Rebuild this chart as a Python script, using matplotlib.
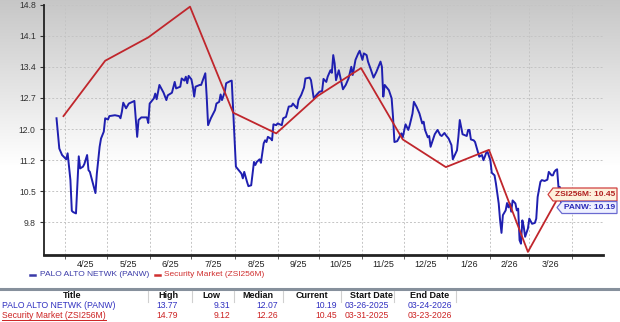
import numpy as np
import pandas as pd
import matplotlib
matplotlib.use("Agg")
import matplotlib.pyplot as plt
import matplotlib.dates as mdates
from matplotlib.patches import Polygon
from matplotlib.lines import Line2D

plt.rcParams['font.family'] = ['Liberation Sans', 'DejaVu Sans']

W, H = 620, 322

# PALO ALTO NETWK (PANW) daily values, days counted from the start date
PANW_START = "2025-03-26"
panw_days = [0, 2, 4, 7, 8, 10, 11, 12, 14, 16, 17, 19, 20, 22, 23, 24, 28, 29, 31, 32,
             34, 35, 37, 38, 42, 45, 46, 47, 48, 50, 52, 56, 58, 59, 61, 65, 66, 67, 70, 71,
             72, 74, 76, 77, 79, 80, 83, 85, 86, 89, 90, 92, 93, 94, 95, 97, 98, 99, 100, 103,
             104, 107, 108, 109, 111, 114, 115, 117, 118, 119, 121, 122, 125, 126, 127, 129, 131, 133, 134, 135,
             137, 138, 140, 142, 143, 144, 146, 147, 149, 150, 151, 152, 154, 155, 156, 158, 159, 162, 163, 165,
             167, 169, 170, 171, 173, 174, 176, 178, 179, 182, 183, 185, 187, 189, 191, 192, 194, 195, 197, 198,
             199, 200, 201, 203, 204, 206, 208, 210, 212, 213, 215, 217, 218, 220, 221, 223, 224, 226, 228, 230,
             233, 234, 235, 236, 239, 241, 242, 243, 245, 246, 248, 249, 251, 253, 254, 256, 257, 259, 261, 263,
             264, 265, 267, 268, 269, 271, 272, 274, 276, 277, 279, 280, 282, 284, 285, 286, 288, 289, 290, 291,
             292, 295, 296, 297, 298, 300, 301, 303, 304, 306, 307, 308, 309, 310, 312, 313, 315, 316, 318, 319,
             320, 321, 323, 324, 325, 326, 327, 328, 330, 331, 332, 333, 334, 335, 336, 337, 339, 340, 342, 344,
             345, 346, 348, 349, 351, 353, 354, 356, 357, 358, 359, 360, 361, 362, 363]
panw_vals = [12.21, 11.51, 11.36, 11.26, 11.40, 10.78, 10.07, 10.04, 10.01, 11.33, 11.05, 11.09, 11.15, 11.36, 11.01, 10.97, 10.48, 10.93, 11.55, 11.74,
             11.90, 12.21, 12.18, 12.26, 12.28, 12.26, 12.21, 12.36, 12.57, 12.44, 12.55, 12.61, 11.78, 12.17, 12.23, 12.23, 12.10, 12.55, 12.67, 12.78,
             12.65, 12.98, 12.86, 12.80, 12.63, 12.74, 12.80, 13.05, 12.90, 12.94, 13.13, 13.08, 13.17, 13.02, 13.19, 13.11, 12.95, 12.71, 12.94, 12.98,
             12.98, 13.25, 12.71, 12.05, 12.21, 12.40, 12.55, 12.59, 12.76, 12.63, 12.82, 13.02, 13.07, 13.08, 12.40, 11.09, 11.01, 10.93, 10.82, 10.97,
             10.74, 10.64, 10.66, 11.20, 11.13, 11.20, 11.26, 11.18, 11.63, 11.70, 11.66, 11.78, 11.74, 11.70, 12.07, 12.05, 12.09, 12.05, 12.21, 12.24,
             12.48, 12.49, 12.55, 12.51, 12.44, 12.63, 12.75, 12.92, 13.13, 13.15, 13.09, 12.67, 12.75, 12.82, 12.84, 13.12, 13.05, 13.17, 13.32, 13.26,
             13.67, 13.48, 13.09, 13.32, 13.17, 12.88, 12.98, 13.13, 13.40, 13.21, 13.56, 13.71, 13.77, 13.56, 13.71, 13.67, 13.52, 13.34, 13.15, 13.28,
             13.52, 13.40, 12.71, 12.98, 12.86, 12.67, 12.24, 11.66, 11.68, 11.74, 11.86, 11.77, 12.07, 11.94, 12.05, 12.32, 12.59, 12.47, 12.32, 12.09,
             12.13, 11.94, 11.77, 11.80, 11.55, 11.74, 11.84, 11.94, 11.82, 11.80, 11.87, 11.82, 11.74, 11.59, 11.26, 11.33, 11.47, 11.78, 12.17, 12.01,
             11.84, 11.80, 11.94, 11.94, 11.72, 11.70, 11.66, 11.43, 11.32, 11.36, 11.24, 11.32, 11.41, 11.43, 11.24, 10.95, 10.89, 10.70, 10.24, 9.85,
             9.56, 9.97, 10.08, 10.25, 10.15, 10.24, 10.05, 10.31, 10.24, 10.08, 10.12, 9.39, 9.31, 9.85, 9.70, 9.47, 9.66, 9.89, 9.77, 9.79,
             9.89, 10.39, 10.74, 10.78, 10.76, 10.79, 10.97, 10.89, 10.89, 10.97, 11.01, 11.03, 10.61, 10.62, 10.19]

# Security Market (ZSI256M) monthly values
zsi_dates = ["2025-03-31", "2025-04-30", "2025-05-31", "2025-06-30", "2025-07-31", "2025-08-31",
             "2025-09-30", "2025-10-31", "2025-11-30", "2025-12-31", "2026-01-31", "2026-02-28", "2026-03-23"]
zsi_vals = [12.26, 13.54, 14.08, 14.79, 12.34, 11.86, 12.73, 13.37, 11.72, 11.08, 11.48, 9.12, 10.45]

month_labels = ["4/25", "5/25", "6/25", "7/25", "8/25", "9/25", "10/25", "11/25", "12/25", "1/26", "2/26", "3/26"]
y_ticks = [9.8, 10.52, 11.24, 11.96, 12.68, 13.40, 14.12, 14.84]

table_cols = ["Title", "High", "Low", "Median", "Current", "Start Date", "End Date"]
panw_row = ["PALO ALTO NETWK (PANW)", "13.77", "9.31", "12.07", "10.19", "03-26-2025", "03-24-2026"]
zsi_row = ["Security Market (ZSI256M)", "14.79", "9.12", "12.26", "10.45", "03-31-2025", "03-23-2026"]

BLUE = "#1f1fb0"
RED = "#c0262c"


def fx(px):
    return px / W


def fy(py):
    return 1 - py / H


def tag(fig, x_tip, y_top, y_bot, x_right, text, fc, ec, tc):
    ym = (y_top + y_bot) / 2
    pts = [(fx(x_tip), fy(ym)), (fx(x_tip + 5), fy(y_top)), (fx(x_right), fy(y_top)),
           (fx(x_right), fy(y_bot)), (fx(x_tip + 5), fy(y_bot))]
    fig.patches.append(Polygon(pts, closed=True, transform=fig.transFigure,
                               facecolor=fc, edgecolor=ec, lw=0.9, zorder=5))
    fig.text(fx((x_tip + 5 + x_right) / 2), fy(ym), text, color=tc, fontsize=6,
             fontweight="bold", ha="center", va="center", zorder=6)


def main():
    fig = plt.figure(figsize=(W / 100, H / 100), dpi=100)

    # gray to white background fade at the top
    bg = fig.add_axes([0, 0, 1, 1], zorder=0)
    rows = np.arange(H)
    g = np.clip(0.78 + 0.22 * rows / 165.0, 0, 1)
    img = np.stack([g, g, g], axis=-1)[:, None, :].repeat(2, axis=1)
    bg.imshow(img, aspect="auto", extent=[0, 1, 0, 1], origin="upper")
    bg.axis("off")

    ax = fig.add_axes([fx(44), fy(254.5), fx(603 - 44), (254.5 - 4.5) / H], zorder=1)
    ax.patch.set_alpha(0)

    panw_dates = pd.Timestamp(PANW_START) + pd.to_timedelta(panw_days, unit="D")
    ax.plot(panw_dates, panw_vals, color=BLUE, lw=1.4, zorder=3)
    ax.plot(pd.to_datetime(zsi_dates), zsi_vals, color=RED, lw=1.3, zorder=4)

    ax.set_xlim(pd.Timestamp("2025-03-17"), pd.Timestamp("2026-04-23"))
    ax.set_ylim(9.06, 14.84)

    month_starts = pd.date_range("2025-04-01", "2026-04-01", freq="MS")
    mids = [month_starts[i] + (month_starts[i + 1] - month_starts[i]) / 2 for i in range(12)]
    ax.set_xticks(mids)
    ax.set_xticklabels(month_labels)
    ax.set_xticks(month_starts, minor=True)
    ax.tick_params(axis="x", which="major", length=0, labelsize=6.5, colors="#222222", pad=4)
    ax.tick_params(axis="x", which="minor", length=3, color="#444444")

    ax.set_yticks(y_ticks)
    ax.set_yticklabels([f"{v:.1f}" for v in y_ticks])
    ax.tick_params(axis="y", length=3, width=0.8, labelsize=6.2, colors="#333333", pad=3)

    ax.grid(True, axis="y", which="major", linestyle=(0, (2, 2)), color="#c4c4c4", lw=0.7)
    ax.grid(True, axis="x", which="minor", linestyle=(0, (2, 2)), color="#c4c4c4", lw=0.7)

    for s in ("top", "right"):
        ax.spines[s].set_visible(False)
    ax.spines["left"].set_color("#222222")
    ax.spines["left"].set_linewidth(1.3)
    ax.spines["bottom"].set_color("#222222")
    ax.spines["bottom"].set_linewidth(2)

    # last value tags
    tag(fig, 548, 188, 201, 617, f"ZSI256M: {zsi_vals[-1]:.2f}", "#fdf1dc", "#d04040", "#b02020")
    tag(fig, 557, 201.5, 213.5, 617, f"PANW: {panw_vals[-1]:.2f}", "#eef0ff", "#6a6ad0", "#2a2ab8")

    # legend
    fig.add_artist(Line2D([fx(30), fx(35)], [fy(274.5), fy(274.5)], color="#3a3aa8", lw=1.8))
    fig.text(fx(40), fy(274.5), "PALO ALTO NETWK (PANW)", color="#3a3aa8", fontsize=6, va="center")
    fig.add_artist(Line2D([fx(155), fx(160)], [fy(274.5), fy(274.5)], color="#d03030", lw=1.8))
    fig.text(fx(164), fy(274.5), "Security Market (ZSI256M)", color="#d03030", fontsize=6, va="center")

    # separator above the table
    fig.add_artist(Line2D([0, 1], [fy(288.5), fy(288.5)], color="#86909c", lw=2.2))

    # table
    narrow = ["Liberation Sans Narrow", "Liberation Sans", "DejaVu Sans"]
    head_x = [72, 168, 211, 258, 312, 371, 430]
    for x, c in zip(head_x, table_cols):
        fig.text(fx(x), fy(296), c, fontsize=6.5, fontweight="bold", ha="center", va="center",
                 family=narrow, color="#111111")
    for x in [148, 192, 234, 283, 341, 394, 456]:
        fig.add_artist(Line2D([fx(x), fx(x)], [fy(290.5), fy(301.5)], color="#d0d0d0", lw=0.8))

    right_x = [178, 230, 278, 337, 389, 452]
    for row, y, col in [(panw_row, 306, "#3030c0"), (zsi_row, 315.5, "#cc2222")]:
        t = fig.text(fx(2), fy(y), row[0], fontsize=6.2, ha="left", va="center", family=narrow, color=col)
        for x, v in zip(right_x, row[1:]):
            fig.text(fx(x), fy(y), v, fontsize=6.2, ha="right", va="center", family=narrow, color=col)
        if row is zsi_row:
            fig.canvas.draw()
            bb = t.get_window_extent()
            fig.add_artist(Line2D([bb.x0 / W, bb.x1 / W], [fy(y + 4.2), fy(y + 4.2)], color=col, lw=0.7))

    fig.savefig("out.png", dpi=100)


if __name__ == "__main__":
    main()
